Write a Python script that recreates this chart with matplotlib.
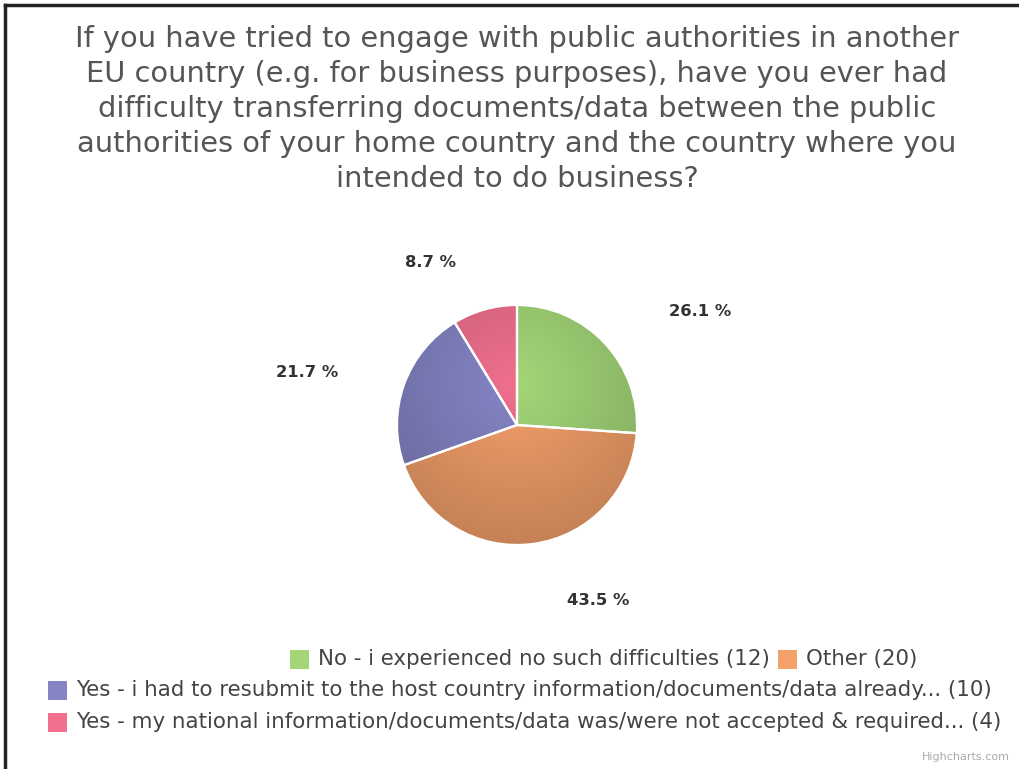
import numpy as np
import matplotlib
matplotlib.use("Agg")
import matplotlib.pyplot as plt
from matplotlib.patches import Rectangle
from matplotlib.lines import Line2D
import matplotlib.colors as mcolors

# ---- data ----
title = ("If you have tried to engage with public authorities in another\n"
         "EU country (e.g. for business purposes), have you ever had\n"
         "difficulty transferring documents/data between the public\n"
         "authorities of your home country and the country where you\n"
         "intended to do business?")
labels = ["No - i experienced no such difficulties",
          "Other",
          "Yes - i had to resubmit to the host country information/documents/data already...",
          "Yes - my national information/documents/data was/were not accepted & required..."]
counts = [12, 20, 10, 4]
colors = ["#a4d678", "#f4a06a", "#8585c6", "#f0708e"]

W, H = 1019, 769
fig = plt.figure(figsize=(W / 100, H / 100), dpi=100)
ax = fig.add_axes([0, 0, 1, 1])

cx, cy, R = 517, H - 425, 120

wedges, _ = ax.pie(counts, colors=colors, startangle=90, counterclock=False,
                   center=(cx, cy), radius=R, frame=True,
                   wedgeprops=dict(edgecolor="white", linewidth=1.6))
ax.set_xlim(0, W)
ax.set_ylim(0, H)
ax.set_aspect("equal")
ax.axis("off")

# radial gradient fill clipped to each wedge
n = 400
xs = np.linspace(cx - R, cx + R, n)
ys = np.linspace(cy - R, cy + R, n)
X, Y = np.meshgrid(xs, ys)
gx, gy = cx, cy + 0.35 * R
dist = np.clip(np.hypot(X - gx, Y - gy) / (1.4 * R), 0, 1)
for w, c in zip(wedges, colors):
    base = np.array(mcolors.to_rgb(c))
    dark = base * 0.8
    img = base[None, None, :] * (1 - dist[..., None]) + dark[None, None, :] * dist[..., None]
    im = ax.imshow(img, extent=(cx - R, cx + R, cy - R, cy + R), origin="lower",
                   zorder=w.get_zorder() + 0.1, interpolation="bilinear")
    im.set_clip_path(w)
    w.set_facecolor("none")
    w.set_zorder(w.get_zorder() + 0.2)
ax.set_xlim(0, W)
ax.set_ylim(0, H)

# data labels
total = sum(counts)
label_dist = [216, 193, 216, 184]
angle_nudge = [-11.2, 17.1, 5.4, 12.5]
start = 90.0
for v, d, nud in zip(counts, label_dist, angle_nudge):
    span = 360.0 * v / total
    mid = np.deg2rad(start - span / 2 + nud)
    start -= span
    ax.text(cx + d * np.cos(mid), cy + d * np.sin(mid), f"{100 * v / total:.1f} %",
            ha="center", va="center", fontsize=11.8, fontweight="bold", color="#333333")

# title
ax.text(517, H - 109, title, ha="center", va="center", fontsize=20.8,
        color="#555555", linespacing=1.31)

# legend (manual, Highcharts-like wrapping)
fig.canvas.draw()
renderer = fig.canvas.get_renderer()
leg_fs = 15.4
sq = 19
rows = [([0, 1], 290, 659), ([2], 48, 690), ([3], 48, 722)]
for idx_list, x0, yc in rows:
    x = x0
    for i in idx_list:
        ax.add_patch(Rectangle((x, H - yc - sq / 2), sq, sq, facecolor=colors[i],
                               edgecolor="none"))
        t = ax.text(x + sq + 9, H - yc, f"{labels[i]} ({counts[i]})", ha="left",
                    va="center", fontsize=leg_fs, color="#444444")
        bb = t.get_window_extent(renderer=renderer)
        x = x + sq + 9 + bb.width + 8

ax.text(1010, H - 757, "Highcharts.com", ha="right", va="center", fontsize=8,
        color="#aaaaaa")

# border lines (left and top)
fig.add_artist(Line2D([5 / W, 5 / W], [0, 1 - 5 / H], color="#222222", lw=2.5,
                      transform=fig.transFigure))
fig.add_artist(Line2D([5 / W, 1], [1 - 5 / H, 1 - 5 / H], color="#222222", lw=2.5,
                      transform=fig.transFigure))

fig.savefig("out.png", dpi=100, facecolor="white")
